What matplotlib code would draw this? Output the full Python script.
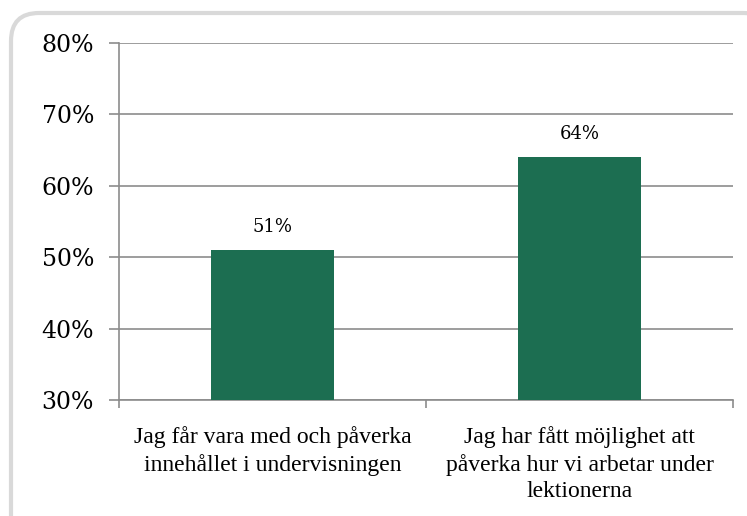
import matplotlib.pyplot as plt
from matplotlib.patches import FancyBboxPatch
from matplotlib.ticker import FixedLocator

kategorier = ["Jag får vara med och påverka\ninnehållet i undervisningen",
              "Jag har fått möjlighet att\npåverka hur vi arbetar under\nlektionerna"]
andel = [51, 64]
y_ticks = [30, 40, 50, 60, 70, 80]

fig = plt.figure(figsize=(7.47, 5.16), dpi=100)

# rundad ram runt diagrammet
ram = FancyBboxPatch((11, -30), 760, 533, boxstyle="round,pad=0,rounding_size=28",
                     transform=None, facecolor="white", edgecolor="#d9d9d9", linewidth=3,
                     zorder=-5)
fig.patches.append(ram)

ax = fig.add_axes([119 / 747, 1 - 400 / 516, (733 - 119) / 747, (400 - 43) / 516])
ax.set_zorder(2)
ax.set_facecolor("none")

x = range(len(kategorier))
staplar = ax.bar(x, andel, width=0.4, color="#1c6e51", zorder=3)
for xi, v in zip(x, andel):
    ax.text(xi, v + 2.0, f"{v}%", ha="center", va="bottom", fontsize=13, family="DejaVu Serif")

ax.set_ylim(30, 80)
ax.set_xlim(-0.5, 1.5)
ax.set_yticks(y_ticks)
ax.set_yticklabels([f"{t}%" for t in y_ticks], fontsize=17, family="DejaVu Serif")
ax.yaxis.grid(True, color="#8c8c8c", linewidth=1.2, zorder=0)

ax.set_xticks(list(x))
ax.set_xticklabels(kategorier, fontsize=17, family="Liberation Serif", linespacing=1.32)
ax.tick_params(axis="x", length=0, pad=19)
ax.xaxis.set_minor_locator(FixedLocator([-0.5, 0.5, 1.5]))
ax.tick_params(axis="x", which="minor", length=6, color="#8c8c8c", width=1.2)
ax.tick_params(axis="y", length=7, color="#8c8c8c", width=1.2, pad=11)

for s in ["top", "right"]:
    ax.spines[s].set_visible(False)
for s in ["left", "bottom"]:
    ax.spines[s].set_color("#8c8c8c")
    ax.spines[s].set_linewidth(1.2)

fig.savefig("out.png", dpi=100)
